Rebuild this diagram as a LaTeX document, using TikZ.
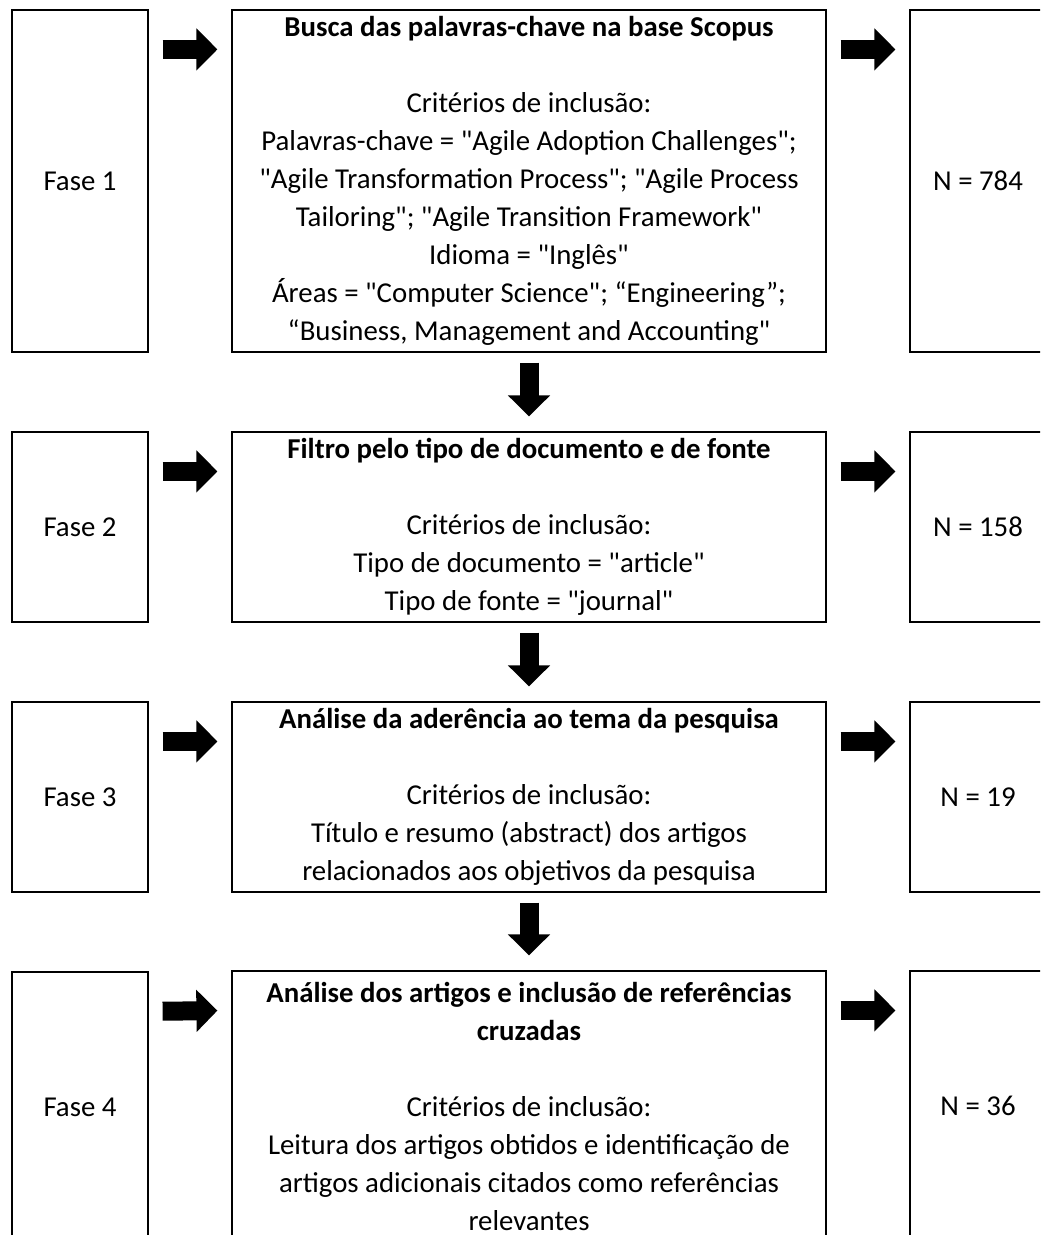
\documentclass[tikz,border=0pt]{standalone}
\usepackage{fontspec}
\setmainfont{Carlito}[Ligatures=TeXOff]
\usetikzlibrary{arrows.meta}
\begin{document}
\begin{tikzpicture}[x=.5pt,y=-.5pt,line width=.6pt,
  caixa/.style={draw,align=center,inner sep=0pt,font=\fontsize{14.4}{19}\selectfont},
  lateral/.style={caixa,minimum width=68pt},
  etapa/.style={caixa,minimum width=297pt},
  seta/.style={line width=9.5pt,-{Triangle[length=10.5pt,width=20.5pt]},shorten <=7pt,shorten >=7pt}]
\useasboundingbox (0,0) rectangle (1040,1235);
\clip (0,0) rectangle (1040,1235);
% Coluna da esquerda : as quatro fases.
\node[lateral,minimum height=171pt] (fase1) at (80,181) {Fase 1};
\node[lateral,minimum height=95pt] (fase2) at (80,527) {Fase 2};
\node[lateral,minimum height=95pt] (fase3) at (80,797) {Fase 3};
\node[lateral,minimum height=135pt] (fase4) at (80,1107) {Fase 4};
% Coluna central : descricao de cada etapa, com o titulo em negrito.
\node[etapa,minimum height=171pt] (etapa1) at (529,181) {\textbf{Busca das palavras-chave na base Scopus}\\[19pt]
  Critérios de inclusão:\\
  Palavras-chave = "Agile Adoption Challenges";\\
  "Agile Transformation Process"; "Agile Process\\
  Tailoring"; "Agile Transition Framework"\\
  Idioma = "Inglês"\\
  Áreas = "Computer Science"; “Engineering”;\\
  “Business, Management and Accounting"};
\node[etapa,minimum height=95pt] (etapa2) at (529,527) {\textbf{Filtro pelo tipo de documento e de fonte}\\[19pt]
  Critérios de inclusão:\\
  Tipo de documento = "article"\\
  Tipo de fonte = "journal"};
\node[etapa,minimum height=95pt] (etapa3) at (529,797) {\textbf{Análise da aderência ao tema da pesquisa}\\[19pt]
  Critérios de inclusão:\\
  Título e resumo (abstract) dos artigos\\
  relacionados aos objetivos da pesquisa};
\node[etapa,minimum height=135pt] (etapa4) at (529,1106) {\textbf{Análise dos artigos e inclusão de referências}\\
  \textbf{cruzadas}\\[19pt]
  Critérios de inclusão:\\
  Leitura dos artigos obtidos e identificação de\\
  artigos adicionais citados como referências\\
  relevantes};
% Coluna da direita : numero de artigos restantes.
\node[lateral,minimum height=171pt] (n1) at (978,181) {N = 784};
\node[lateral,minimum height=95pt] (n2) at (978,527) {N = 158};
\node[lateral,minimum height=95pt] (n3) at (978,797) {N = 19};
\node[lateral,minimum height=135pt] (n4) at (978,1106) {N = 36};
% Setas largas : horizontais no alto de cada linha, verticais entre as etapas.
\foreach \i in {1,...,4} {
  \draw[seta] ([yshift=-20pt]fase\i.north east) -- ([yshift=-20pt]etapa\i.north west);
  \draw[seta] ([yshift=-20pt]etapa\i.north east) -- ([yshift=-20pt]n\i.north west);
}
\draw[seta,shorten <=5pt,shorten >=7.5pt] (etapa1) -- (etapa2);
\draw[seta,shorten <=5pt,shorten >=7.5pt] (etapa2) -- (etapa3);
\draw[seta,shorten <=5pt,shorten >=7.5pt] (etapa3) -- (etapa4);
\end{tikzpicture}
\end{document}
